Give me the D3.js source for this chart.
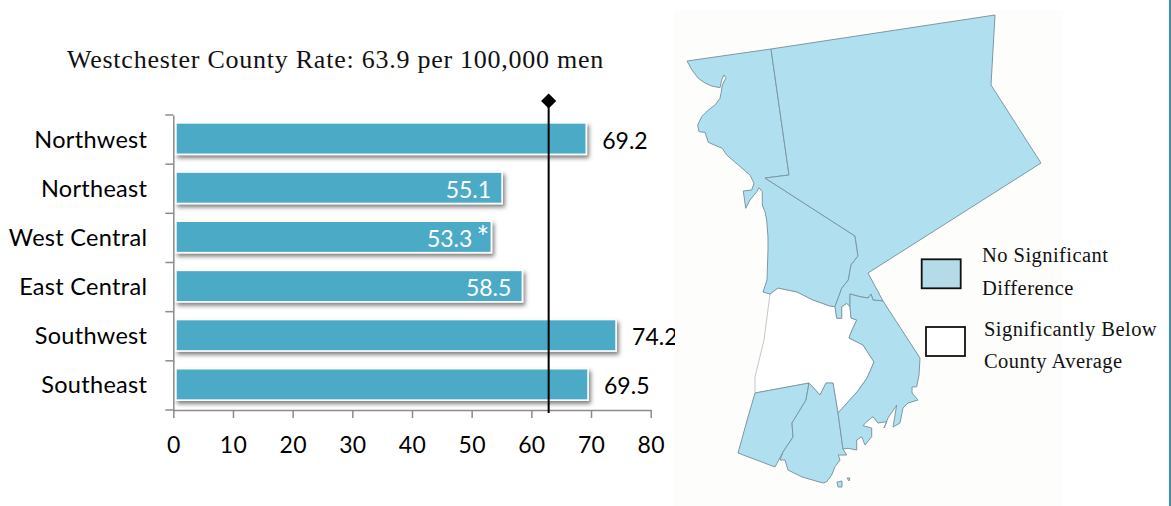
<!DOCTYPE html>
<html><head><meta charset="utf-8">
<script src="https://cdn.jsdelivr.net/npm/d3@7/dist/d3.min.js"></script>
<style>html,body{margin:0;padding:0;background:#fff;overflow:hidden}svg{display:block}</style>
</head><body><svg id="c" width="1171" height="506"></svg>
<script>
const categories=["Northwest","Northeast","West Central","East Central","Southwest","Southeast"];
const rates=[69.2,55.1,53.3,58.5,74.2,69.5];
const significant=[false,false,true,false,false,false];
const valueInside=[false,true,true,true,false,false];
const xTicks=[0,10,20,30,40,50,60,70,80];
const countyLine=62.9;
const titleText="Westchester County Rate: 63.9 per 100,000 men";
const legendLabels=[["No Significant","Difference"],["Significantly Below","County Average"]];
const legendFills=["#b5dbe8","#ffffff"];
// map outlines in map units
const northwestShape=[[17,61],[101,49],[119,175],[95,178],[185,236],[188,256],[181,265],[178.3,280],[171.7,288.3],[165,306.7],[160,306],[143,300],[127,292],[108,288],[100,294],[93,292],[97,280],[98,250],[98,237],[96.7,220],[95,211.7],[92.3,205],[92.3,191.7],[89,187.7],[86.7,191.7],[80,200],[75.7,208.3],[73.3,191],[81.7,190],[84,183.3],[80,175],[68.3,165],[56.7,155],[52.3,148.3],[44.3,145],[38.3,142.3],[35,132.3],[29,131.7],[27.7,125],[31.7,116.7],[38.3,110],[45,105],[50,98.3],[51,93.3],[52.3,85],[56,77.7],[54,75],[51.7,80],[50,87.7],[41.7,86],[35,83],[28.3,78.3],[22,70]];
const northeastShape=[[101,49],[325,15],[321,85],[371,163],[198,273],[213,301],[203,300],[201,294],[198,298],[190,296.7],[180,294],[180,306.7],[176.7,303.3],[171.7,306.7],[171.7,318.3],[166.7,318.3],[165,306.7],[171.7,288.3],[178.3,280],[181,265],[188,256],[185,236],[95,178],[119,175]];
const belowShape=[[100,294],[108,288],[127,292],[143,300],[160,306],[165,306.7],[166.7,318.3],[171.7,318.3],[171.7,306.7],[176.7,303.3],[180,306.7],[181,318],[186.7,320],[183,328],[180,335],[179,338],[193,345],[204,362],[197,378],[187,392],[168,413],[163,383],[156,383],[150,395],[139,383],[85,393],[85,377],[94,340]];
const southLeftShape=[[85,393],[139,383],[136,400],[122,423],[123,437],[113,452],[105,467],[68,453],[78,417]];
const southMiddleShape=[[139,383],[150,395],[156,383],[163,383],[168,413],[173,449],[176.7,455],[168.3,455],[170,460],[165,466.7],[161.7,475],[156.7,481.7],[153,483],[132,477],[118,470],[115,460],[110,460],[113,452],[123,437],[122,423],[136,400]];
const eastShape=[[180,294],[190,296.7],[198,298],[201,294],[203,300],[213,301],[250,358],[249,375],[246.7,386.7],[242,387],[242,393],[248,400],[238,403],[233,408],[230,423],[223,427],[226.7,405],[218,418],[214,428],[216.7,421.7],[208,423],[203,416.7],[196.7,421.7],[193,425.7],[201.7,428],[201.7,436.7],[195,445],[191.7,436.7],[186.7,440],[186.7,450],[178,448.3],[173,449],[168,413],[187,392],[197,378],[204,362],[193,345],[179,338],[180,335],[183,328],[186.7,320],[181,318],[180,306.7]];
const islandShapes=[[[167,482],[172,481],[172,487],[168,487]],[[177,478],[180,478],[179,481]]];
const mapRegions=[
  {shape:belowShape,kind:1},{shape:northwestShape,kind:0},{shape:northeastShape,kind:0},
  {shape:southLeftShape,kind:0},{shape:southMiddleShape,kind:0},{shape:eastShape,kind:0},
  {shape:islandShapes[0],kind:0},{shape:islandShapes[1],kind:0}];

const svg=d3.select("#c");
const defs=svg.append("defs");
const f=defs.append("filter").attr("id","sh").attr("x","-5%").attr("y","-30%").attr("width","112%").attr("height","170%");
f.append("feDropShadow").attr("dx",2).attr("dy",3).attr("stdDeviation",2).attr("flood-color","#000").attr("flood-opacity",.5);
defs.append("clipPath").attr("id","clipL").append("rect").attr("width",675).attr("height",506);
const sans="Lato, 'Open Sans', sans-serif", serif="'Liberation Serif', serif";

// map panel
svg.append("rect").attr("x",674).attr("y",10).attr("width",389).attr("height",496).attr("fill","#fdfdfc");
svg.append("rect").attr("x",1169).attr("width",2).attr("height",506).attr("fill","#3f8fa8");
const mx=d3.scaleLinear().domain([0,500]).range([670,1170]);
const my=d3.scaleLinear().domain([0,500]).range([0,500]);
const line=d3.line().x(d=>mx(d[0])).y(d=>my(d[1])).curve(d3.curveLinearClosed);
svg.append("g").selectAll("path").data(mapRegions).join("path")
  .attr("d",d=>line(d.shape)).attr("fill",d=>d.kind?"#fff":"#b0e0ef")
  .attr("stroke",d=>d.kind?"#c4c8c8":"#7d98a4").attr("stroke-width",1).attr("stroke-linejoin","round");

// chart
const x=d3.scaleLinear().domain([0,80]).range([173.3,650.7]);
const y=d3.scaleBand().domain(categories).range([114,409]).paddingInner(.36).paddingOuter(.18);
const g=svg.append("g").attr("clip-path","url(#clipL)");
const barStart=x(0)+2.6;
g.append("g").selectAll("rect").data(categories).join("rect")
  .attr("x",barStart).attr("y",c=>y(c)).attr("width",(c,i)=>x(rates[i])-barStart)
  .attr("height",y.bandwidth()).attr("fill","#4baac6").attr("stroke","#fff").attr("stroke-width",1.6).attr("filter","url(#sh)");
const axisColor="#8c8c8c";
const xa=g.append("g").attr("transform","translate(0,410)")
  .call(d3.axisBottom(x).tickValues(xTicks).tickSize(8).tickPadding(13).tickSizeOuter(0));
xa.select(".domain").attr("stroke",axisColor).attr("stroke-width",1.5);
xa.selectAll(".tick line").attr("stroke",axisColor).attr("stroke-width",1.5);
xa.selectAll("text").attr("font-family",sans).attr("font-size",23).attr("letter-spacing",.3).attr("fill","#000").attr("dy",0).attr("y",43);
const yPos=d3.scaleBand().domain(categories).range([115,410]);
const ya=g.append("g").attr("transform",`translate(${x(0)},0)`).call(d3.axisLeft(yPos).tickSize(0).tickPadding(26));
ya.select(".domain").attr("stroke",axisColor).attr("stroke-width",1.5);
ya.selectAll("text").attr("font-family",sans).attr("font-size",23.5).attr("letter-spacing",.3).attr("fill","#000").attr("dy",0).attr("y",8);
g.append("g").selectAll("line").data([...categories.map(c=>yPos(c)),410]).join("line")
  .attr("x1",x(0)-8).attr("x2",x(0)).attr("y1",d=>d).attr("y2",d=>d).attr("stroke",axisColor).attr("stroke-width",1.5);
// value labels
g.append("g").selectAll("text").data(categories).join("text")
  .attr("x",(c,i)=>valueInside[i]?x(rates[i])-(significant[i]?19:11):x(rates[i])+16)
  .attr("y",c=>y(c)+y.bandwidth()/2+10)
  .attr("text-anchor",(c,i)=>valueInside[i]?"end":"start")
  .attr("font-family",sans).attr("font-size",23)
  .attr("fill",(c,i)=>valueInside[i]?"#fff":"#000")
  .text((c,i)=>rates[i].toFixed(1));
categories.forEach((c,i)=>{ if(significant[i]) g.append("text").attr("x",x(rates[i])-2).attr("y",y(c)+y.bandwidth()/2+11)
  .attr("text-anchor","end").attr("font-family",sans).attr("font-size",30).attr("fill","#fff").text("*"); });
// county line + diamond
g.append("line").attr("x1",x(countyLine)).attr("x2",x(countyLine)).attr("y1",101).attr("y2",413).attr("stroke","#000").attr("stroke-width",2);
g.append("path").attr("d",d3.symbol(d3.symbolSquare,115)).attr("transform",`translate(${x(countyLine)},101) rotate(45)`).attr("fill","#000");
// title
svg.append("text").attr("x",67).attr("y",68).attr("font-family",serif).attr("font-size",26).attr("letter-spacing",.75).attr("fill","#111").text(titleText);
// legend
const lgX=[921.7,926], lgY=[259.3,327], tX=[982,984], tY=[[262,295],[336,368]];
legendLabels.forEach((ls,i)=>{
  svg.append("rect").attr("x",lgX[i]).attr("y",lgY[i]).attr("width",39).attr("height",29).attr("fill",legendFills[i]).attr("stroke","#111").attr("stroke-width",1.8);
  ls.forEach((t,j)=>svg.append("text").attr("x",tX[i]).attr("y",tY[i][j]).attr("font-family",serif).attr("font-size",20.5).attr("letter-spacing",.45).attr("fill","#111").text(t));
});
</script></body></html>
